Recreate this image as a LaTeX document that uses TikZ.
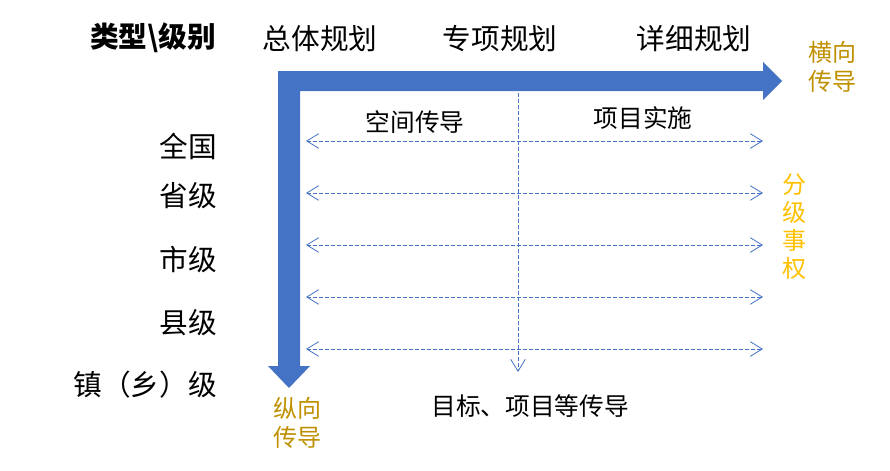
\documentclass[tikz,border=0pt]{standalone}
\usepackage{fontspec}
\setmainfont{Noto Sans CJK SC}
\usetikzlibrary{arrows.meta}
\definecolor{blueA}{HTML}{4472C4}
\definecolor{goldA}{HTML}{BF9000}
\definecolor{goldB}{HTML}{FFC000}
\begin{document}
\begin{tikzpicture}[x=0.75pt,y=-0.75pt,
  hdr/.style={font=\fontsize{21.5}{26}\selectfont, inner sep=0pt},
  lab/.style={font=\fontsize{18.5}{22}\selectfont, inner sep=0pt},
  gold/.style={font=\fontsize{18}{21.5}\selectfont, inner sep=0pt, align=center, text=goldA},
  dline/.style={draw=blueA, line width=0.75pt, dash pattern=on 3pt off 1.5pt,
    {Straight Barb[length=9pt,width=11pt,line width=0.6pt]}-{Straight Barb[length=9pt,width=11pt,line width=0.6pt]}},
  vline/.style={draw=blueA, line width=0.75pt, dash pattern=on 3pt off 1.5pt,
    -{Straight Barb[length=9pt,width=11pt,line width=0.6pt]}}
]
\useasboundingbox (0,0) rectangle (890,471);
% thick L-shaped arrow
\fill[blueA] (278,71) -- (763,71) -- (763,62) -- (782,81) -- (763,100) -- (763,91)
  -- (300,91) -- (300,366) -- (310,366) -- (289,388) -- (268,366) -- (278,366) -- cycle;
% headers
\node[hdr, font=\fontsize{21.5}{26}\selectfont\bfseries] (h0) at (153,38) {类型\textbackslash 级别};
\node[hdr] (h1) at (320,39) {总体规划};
\node[hdr] (h2) at (500,39) {专项规划};
\node[hdr] (h3) at (694,39) {详细规划};
% side labels
\node[hdr, anchor=east] (r1) at (217,146) {全国};
\node[hdr, anchor=east] (r2) at (217,196) {省级};
\node[hdr, anchor=east] (r3) at (217,260) {市级};
\node[hdr, anchor=east] (r4) at (217,323) {县级};
\node[hdr, anchor=east] (r5) at (217,385) {镇（乡）级};
% inner labels
\node[lab] (t1) at (415,122) {空间传导};
\node[lab] (t2) at (643,118) {项目实施};
\node[lab] (t3) at (530,406) {目标、项目等传导};
% gold labels
\node[gold] (g1) at (832,67) {横向\\传导};
\node[gold] (g2) at (297,423) {纵向\\传导};
\node[gold, text=goldB, font=\fontsize{18}{21}\selectfont] (g3) at (794,227) {分\\级\\事\\权};
% dashed connectors
\foreach \i/\y in {1/141,2/193,3/245,4/297,5/349}{
  \coordinate (L\i) at (306,\y);
  \coordinate (R\i) at (763,\y);
  \draw[dline] (L\i) -- (R\i);
}
\coordinate (vt) at (518,93);
\coordinate (vb) at (518,372);
\draw[vline] (vt) -- (vb);
\end{tikzpicture}
\end{document}
